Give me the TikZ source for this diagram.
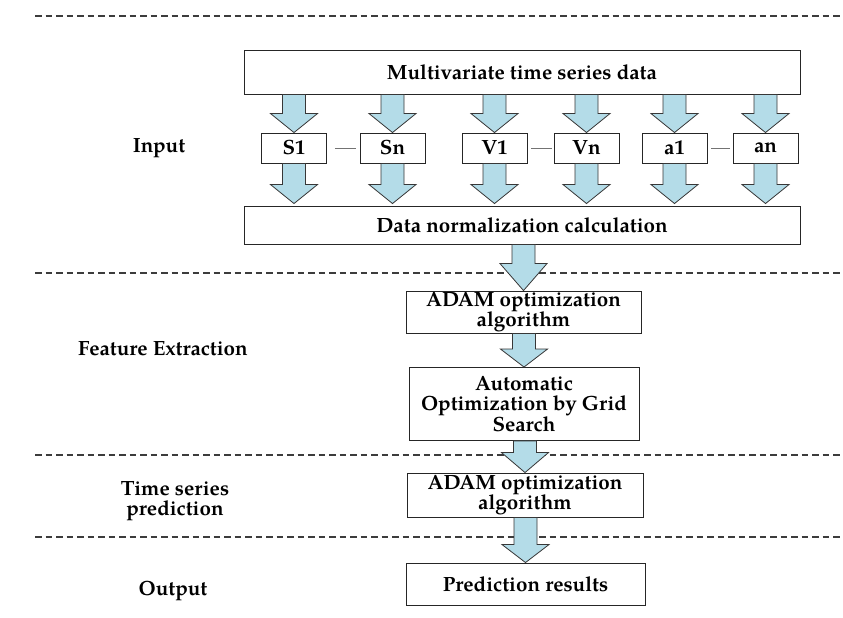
\documentclass[tikz,border=0pt]{standalone}
\usepackage{fontspec}
\setmainfont{TeX Gyre Pagella}
\usetikzlibrary{calc}
\definecolor{arrfill}{RGB}{180,220,232}
\definecolor{arredge}{RGB}{55,55,55}
\definecolor{dashcol}{RGB}{60,60,60}
\newcommand\fatarrow[3][19]{%
  \path[fatarr] let \p1=#2, \p2=#3 in
    (\x2-11.5pt,\y1) -- (\x2+11.5pt,\y1) -- (\x2+11.5pt,\y2+#1pt) --
    (\x2+23.5pt,\y2+#1pt) -- (\x2,\y2) -- (\x2-23.5pt,\y2+#1pt) --
    (\x2-11.5pt,\y2+#1pt) -- cycle;}
\begin{document}
\begin{tikzpicture}[x=1pt,y=-1pt,
  txt/.style={font=\fontsize{20.6}{20.6}\selectfont\bfseries, align=center, inner sep=0pt},
  box/.style={txt, draw=black!85, line width=0.9pt, fill=white},
  fatarr/.style={fill=arrfill, draw=arredge, line width=0.8pt, line join=miter},
  sepline/.style={dashed, dash pattern=on 6.5pt off 4pt, draw=dashcol, line width=1.1pt},
  gapline/.style={draw=black!55, line width=0.6pt}]
\useasboundingbox (0,0) rectangle (843,618);
% section separators
\coordinate (d1l) at (35,16);  \coordinate (d1r) at (843,16);
\coordinate (d2l) at (35,273); \coordinate (d2r) at (843,273);
\coordinate (d3l) at (35,455); \coordinate (d3r) at (843,455);
\coordinate (d4l) at (35,537); \coordinate (d4r) at (843,537);
\draw[sepline] (d1l) -- (d1r);
\draw[sepline] (d2l) -- (d2r);
\draw[sepline] (d3l) -- (d3r);
\draw[sepline] (d4l) -- (d4r);
% left labels
\node[txt] (lin) at (159,148) {Input};
\node[txt] (lfe) at (163,349) {Feature Extraction};
\node[txt] (ltp) at (175,501) {Time series\\prediction};
\node[txt] (lout) at (173,591) {Output};
% input section
\node[box, minimum width=556pt, minimum height=44pt] (top) at (522,72) {Multivariate time series data};
\node[box, minimum width=65pt, minimum height=30pt] (S1) at (294,148) {S1};
\node[box, minimum width=65pt, minimum height=30pt] (Sn) at (392.5,148) {Sn};
\node[box, minimum width=65pt, minimum height=30pt] (V1) at (494.5,148) {V1};
\node[box, minimum width=65pt, minimum height=30pt] (Vn) at (586.5,148) {Vn};
\node[box, minimum width=65pt, minimum height=30pt] (a1) at (674.5,148) {a1};
\node[box, minimum width=65pt, minimum height=30pt] (an) at (765.5,148) {an};
\node[box, minimum width=556pt, minimum height=38pt] (norm) at (522,225) {Data normalization calculation};
\draw[gapline, shorten <=8pt, shorten >=4pt] (S1.east) -- (Sn.west);
\draw[gapline, shorten <=4pt, shorten >=2pt] (V1.east) -- (Vn.west);
\draw[gapline, shorten <=4pt, shorten >=3pt] (a1.east) -- (an.west);
\foreach \bx in {S1,Sn,V1,Vn,a1,an}{
  \coordinate (tip-\bx) at ($(\bx.south |- norm.north)+(0,-2)$);
  \fatarrow{(\bx.north |- top.south)}{(\bx.north)}
  \fatarrow{(\bx.south)}{(tip-\bx)}
}
% feature extraction
\node[box, minimum width=235pt, minimum height=42pt] (adam1) at (523.5,312) {ADAM optimization\\algorithm};
\node[box, minimum width=230pt, minimum height=73pt] (grid) at (524,404) {Automatic\\Optimization by Grid\\Search};
% prediction
\node[box, minimum width=236pt, minimum height=44pt] (adam2) at (525,495) {ADAM optimization\\algorithm};
% output
\node[box, minimum width=239pt, minimum height=42pt] (pred) at (525.5,584) {Prediction results};
\fatarrow[27]{(adam1.north |- norm.south)}{(adam1.north)}
\fatarrow[18]{(grid.north |- adam1.south)}{(grid.north)}
\fatarrow[20]{(adam2.north |- grid.south)}{(adam2.north)}
\fatarrow[18]{(pred.north |- adam2.south)}{(pred.north)}
\end{tikzpicture}
\end{document}
